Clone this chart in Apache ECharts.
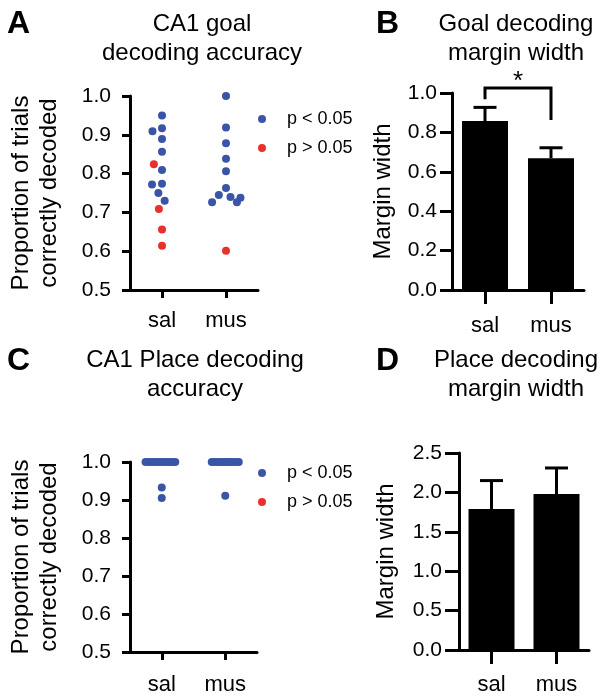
<!DOCTYPE html>
<html><head><meta charset="utf-8">
<script src="https://cdn.jsdelivr.net/npm/echarts@6/dist/echarts.min.js"></script>
<style>html,body{margin:0;padding:0;background:#fff}#c{width:602px;height:699px}</style>
</head><body><div id="c"></div>
<script>
// ---- data ----
const groups = ['sal', 'mus'];
const legendNames = ['p < 0.05', 'p > 0.05'];
// Panel A: goal decoding accuracy (per animal/session)
const goalSalSig = [0.950, 0.917, 0.909, 0.889, 0.856, 0.809, 0.774, 0.772, 0.750, 0.730];
const goalSalNS  = [0.824, 0.709, 0.656, 0.614];
const goalMusSig = [1.000, 0.919, 0.878, 0.838, 0.806, 0.763, 0.745, 0.740, 0.738, 0.726, 0.726];
const goalMusNS  = [0.601];
// Panel B: goal decoding margin width
const goalMarginMean = [0.858, 0.669];
const goalMarginSem  = [0.069, 0.053];
const sigLegBottoms  = [0.968, 0.863];
const sigTop = 1.025;
const sigText = '*';
// Panel C: place decoding accuracy
const placeSalSig = [1, 1, 1, 1, 1, 1, 1, 1, 1, 1, 1, 1, 0.933, 0.905];
const placeSalNS  = [];
const placeMusSig = [1, 1, 1, 1, 1, 1, 1, 1, 1, 1, 1, 0.911];
const placeMusNS  = [];
// Panel D: place decoding margin width
const placeMarginMean = [1.79, 1.98];
const placeMarginSem  = [0.36, 0.33];

// ---- styles ----
const FONT = 'Liberation Sans, Arial, Helvetica, sans-serif';
const BLUE = '#3b55a6';
const RED = '#e8312b';
const BLACK = '#000';

function pairs(g, arr) { return arr.map(v => [g, v]); }

function xAxisCfg(gridIndex, tickLen, labelMargin, extra) {
  return Object.assign({
    type: 'category', gridIndex, data: groups, boundaryGap: true,
    axisLine: { show: true, lineStyle: { color: BLACK, width: 3 } },
    axisTick: { show: true, alignWithLabel: true, length: tickLen, lineStyle: { color: BLACK, width: 3 } },
    axisLabel: { color: BLACK, fontSize: 22, fontFamily: FONT, margin: labelMargin },
    splitLine: { show: false }
  }, extra || {});
}
function yAxisCfg(gridIndex, min, max, interval, name, nameGap, tickLen, labelMargin) {
  return {
    type: 'value', gridIndex, min, max, interval,
    name, nameLocation: 'middle', nameRotate: 90, nameGap, nameMoveOverlap: false,
    nameTextStyle: { color: BLACK, fontSize: 24, fontFamily: FONT, lineHeight: 28 },
    axisLine: { show: true, lineStyle: { color: BLACK, width: 3 } },
    axisTick: { show: true, length: tickLen, lineStyle: { color: BLACK, width: 3 } },
    axisLabel: { color: BLACK, fontSize: 21, fontFamily: FONT, margin: labelMargin,
      formatter: v => v.toFixed(1) },
    splitLine: { show: false }
  };
}
function scatter(name, color, xi, data) {
  return { type: 'scatter', name, xAxisIndex: xi, yAxisIndex: xi, data,
    symbol: 'circle', symbolSize: 8, itemStyle: { color, opacity: 1 },
    emphasis: { disabled: true }, z: 3 };
}
function errorBars(xi, mean, sem) {
  return {
    type: 'custom', xAxisIndex: xi, yAxisIndex: xi, clip: false, z: 1,
    data: groups.map((g, i) => [i, mean[i], sem[i]]),
    renderItem(params, api) {
      const x = api.value(0), m = api.value(1), e = api.value(2);
      const b = api.coord([x, m]);
      const t = api.coord([x, m + e]);
      const cap = 23;
      return { type: 'group', children: [
        { type: 'line', shape: { x1: b[0], y1: b[1], x2: t[0], y2: t[1] }, style: { stroke: BLACK, lineWidth: 3 } },
        { type: 'line', shape: { x1: t[0] - cap / 2, y1: t[1], x2: t[0] + cap / 2, y2: t[1] }, style: { stroke: BLACK, lineWidth: 3 } }
      ] };
    }
  };
}
function bars(xi, mean) {
  return { type: 'bar', xAxisIndex: xi, yAxisIndex: xi, data: mean, barWidth: 46,
    itemStyle: { color: BLACK }, emphasis: { disabled: true }, z: 2 };
}
function legendCfg(top) {
  return { left: 258, top, orient: 'vertical', icon: 'circle', itemWidth: 40, itemHeight: 8,
    itemGap: 11, padding: 0, data: legendNames, selectedMode: false,
    textStyle: { color: BLACK, fontSize: 18, fontFamily: FONT } };
}
function titleCfg(text, left, top, big) {
  return big
    ? { text, left, top, padding: 0, textStyle: { color: BLACK, fontSize: 32, fontWeight: 'bold', fontFamily: FONT } }
    : { text, left, top, padding: 0, textAlign: 'center',
        textStyle: { color: BLACK, fontSize: 24, fontWeight: 'normal', fontFamily: FONT, lineHeight: 29 } };
}

const accName = 'Proportion of trials\ncorrectly decoded';
const option = {
  animation: false,
  backgroundColor: '#fff',
  title: [
    titleCfg('A', 7, 8, true),
    titleCfg('CA1 goal\ndecoding accuracy', 202, 10),
    titleCfg('B', 376, 8, true),
    titleCfg('Goal decoding\nmargin width', 516, 10),
    titleCfg('C', 7, 345, true),
    titleCfg('CA1 Place decoding\naccuracy', 195, 346),
    titleCfg('D', 376, 345, true),
    titleCfg('Place decoding\nmargin width', 516, 346)
  ],
  legend: [legendCfg(110), legendCfg(464)],
  grid: [
    { left: 130, top: 96, width: 128, height: 194, outerBoundsMode: 'none' },
    { left: 452, top: 93, width: 132, height: 197, outerBoundsMode: 'none' },
    { left: 130, top: 462, width: 127, height: 190, outerBoundsMode: 'none' },
    { left: 459, top: 453, width: 130, height: 197, outerBoundsMode: 'none' }
  ],
  xAxis: [
    xAxisCfg(0, 8, 20, { jitter: 40, jitterOverlap: false, jitterMargin: 2 }),
    xAxisCfg(1, 14, 25),
    xAxisCfg(2, 8, 22, { jitter: 40, jitterOverlap: false, jitterMargin: -5.3 }),
    xAxisCfg(3, 14, 24)
  ],
  yAxis: [
    yAxisCfg(0, 0.5, 1.0, 0.1, accName, 67, 8, 19),
    yAxisCfg(1, 0, 1.0, 0.2, 'Margin width', 55, 12, 15),
    yAxisCfg(2, 0.5, 1.0, 0.1, accName, 67, 8, 19),
    yAxisCfg(3, 0, 2.5, 0.5, 'Margin width', 59, 14, 17)
  ],
  series: [
    scatter(legendNames[0], BLUE, 0, pairs('sal', goalSalSig).concat(pairs('mus', goalMusSig))),
    scatter(legendNames[1], RED, 0, pairs('sal', goalSalNS).concat(pairs('mus', goalMusNS))),
    bars(1, goalMarginMean),
    errorBars(1, goalMarginMean, goalMarginSem),
    {
      type: 'custom', xAxisIndex: 1, yAxisIndex: 1, clip: false, z: 4,
      data: [[0, sigLegBottoms[0], 1, sigLegBottoms[1], sigTop]],
      renderItem(params, api) {
        const p0 = api.coord([api.value(0), api.value(1)]);
        const p1 = api.coord([api.value(2), api.value(3)]);
        const yt = api.coord([api.value(0), api.value(4)])[1];
        return { type: 'group', children: [
          { type: 'polyline', shape: { points: [[p0[0], p0[1]], [p0[0], yt], [p1[0], yt], [p1[0], p1[1]]] },
            style: { stroke: BLACK, lineWidth: 3, fill: null } },
          { type: 'text', x: (p0[0] + p1[0]) / 2, y: yt - 6,
            style: { text: sigText, fontSize: 26, fontFamily: FONT, fill: BLACK, align: 'center', verticalAlign: 'middle' } }
        ] };
      }
    },
    scatter(legendNames[0], BLUE, 2, pairs('sal', placeSalSig).concat(pairs('mus', placeMusSig))),
    scatter(legendNames[1], RED, 2, pairs('sal', placeSalNS).concat(pairs('mus', placeMusNS))),
    bars(3, placeMarginMean),
    errorBars(3, placeMarginMean, placeMarginSem)
  ]
};
const chart = echarts.init(document.getElementById('c'), null, { renderer: 'canvas' });
chart.setOption(option);
</script>
</body></html>
